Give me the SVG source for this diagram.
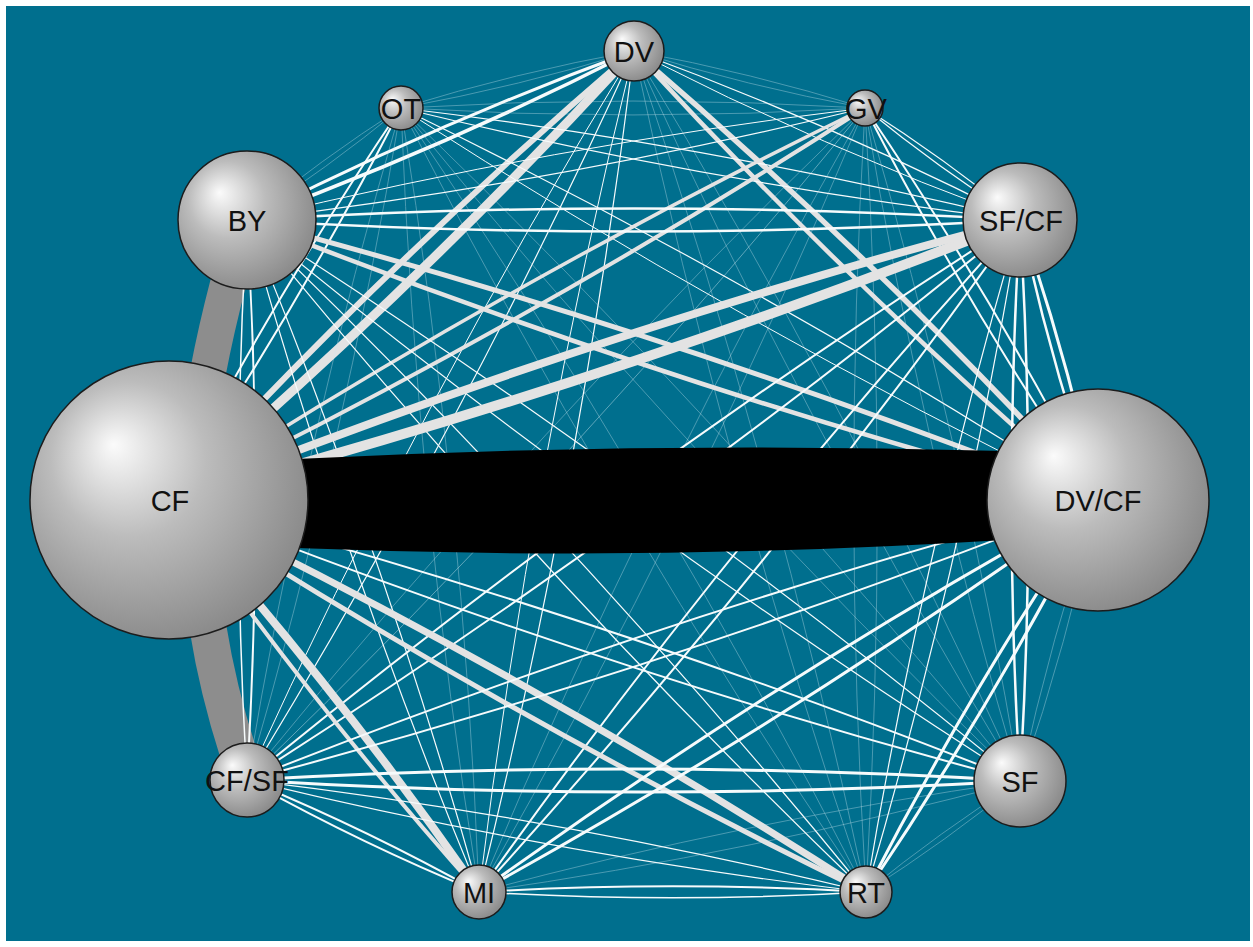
<svg xmlns="http://www.w3.org/2000/svg" width="1253" height="947" viewBox="0 0 1253 947">
<defs>
<radialGradient id="ball" cx="0.42" cy="0.42" r="0.62" fx="0.3" fy="0.3">
<stop offset="0" stop-color="#fbfbfb"/>
<stop offset="0.45" stop-color="#bcbcbc"/>
<stop offset="1" stop-color="#888888"/>
</radialGradient>
<style>
.e{fill:none;vector-effect:non-scaling-stroke;stroke-linecap:butt}
.t{stroke:#e3e3e3}
.m{stroke:#f6fbfc}
.f{stroke:#cfe9f1;opacity:.45}
.n circle{fill:url(#ball);stroke:#1c1c1c;stroke-width:1.5}
.n text{font-family:"Liberation Sans",Arial,sans-serif;font-size:29px;fill:#111;text-anchor:middle}
</style>
</defs>
<rect width="1253" height="947" fill="#ffffff"/>
<rect x="6" y="6" width="1244" height="935" fill="#006f8e"/>
<g id="connectors">
<path d="M228 284 Q216 330 208 372" fill="none" stroke="#8d8d8d" stroke-width="36"/>
<path d="M208 628 Q218 690 238 752" fill="none" stroke="#8d8d8d" stroke-width="37"/>
<g transform="matrix(-233 57 -57 -233 634 51)"><path class="e f" d="M0 0Q.5 -.03 1 0" stroke-width=".8"/><path class="e f" d="M0 0Q.5 .03 1 0" stroke-width=".8"/></g>
<g transform="matrix(231 57 -57 231 634 51)"><path class="e f" d="M0 0Q.5 -.03 1 0" stroke-width=".8"/><path class="e f" d="M0 0Q.5 .03 1 0" stroke-width=".8"/></g>
<g transform="matrix(-387 169 -169 -387 634 51)"><path class="e m" d="M0 0Q.5 -.03 1 0" stroke-width="3.5"/><path class="e m" d="M0 0Q.5 .03 1 0" stroke-width="3"/></g>
<g transform="matrix(386 169 -169 386 634 51)"><path class="e m" d="M0 0Q.5 -.03 1 0" stroke-width="1.2"/><path class="e m" d="M0 0Q.5 .03 1 0" stroke-width="1"/></g>
<g transform="matrix(-465 449 -449 -465 634 51)"><path class="e t" d="M0 0Q.5 -.03 1 0" stroke-width="9"/><path class="e t" d="M0 0Q.5 .03 1 0" stroke-width="6"/></g>
<g transform="matrix(464 449 -449 464 634 51)"><path class="e t" d="M0 0Q.5 -.03 1 0" stroke-width="5.5"/><path class="e t" d="M0 0Q.5 .03 1 0" stroke-width="4.5"/></g>
<g transform="matrix(-387 729 -729 -387 634 51)"><path class="e m" d="M0 0Q.5 -.03 1 0" stroke-width="1.2"/><path class="e m" d="M0 0Q.5 .03 1 0" stroke-width="1"/></g>
<g transform="matrix(386 730 -730 386 634 51)"><path class="e f" d="M0 0Q.5 -.03 1 0" stroke-width=".8"/><path class="e f" d="M0 0Q.5 .03 1 0" stroke-width=".8"/></g>
<g transform="matrix(-155 841 -841 -155 634 51)"><path class="e m" d="M0 0Q.5 -.03 1 0" stroke-width="1.2"/><path class="e m" d="M0 0Q.5 .03 1 0" stroke-width="1"/></g>
<g transform="matrix(232 841 -841 232 634 51)"><path class="e f" d="M0 0Q.5 -.03 1 0" stroke-width=".8"/><path class="e f" d="M0 0Q.5 .03 1 0" stroke-width=".8"/></g>
<g transform="matrix(464 0 0 464 401 108)"><path class="e f" d="M0 0Q.5 -.03 1 0" stroke-width=".8"/><path class="e f" d="M0 0Q.5 .03 1 0" stroke-width=".8"/></g>
<g transform="matrix(-154 112 -112 -154 401 108)"><path class="e f" d="M0 0Q.5 -.03 1 0" stroke-width=".8"/><path class="e f" d="M0 0Q.5 .03 1 0" stroke-width=".8"/></g>
<g transform="matrix(619 112 -112 619 401 108)"><path class="e m" d="M0 0Q.5 -.03 1 0" stroke-width="1.2"/><path class="e m" d="M0 0Q.5 .03 1 0" stroke-width="1.2"/></g>
<g transform="matrix(-232 392 -392 -232 401 108)"><path class="e m" d="M0 0Q.5 -.03 1 0" stroke-width="2"/><path class="e m" d="M0 0Q.5 .03 1 0" stroke-width="2"/></g>
<g transform="matrix(697 392 -392 697 401 108)"><path class="e m" d="M0 0Q.5 -.03 1 0" stroke-width="1.2"/><path class="e m" d="M0 0Q.5 .03 1 0" stroke-width="1"/></g>
<g transform="matrix(-154 672 -672 -154 401 108)"><path class="e f" d="M0 0Q.5 -.03 1 0" stroke-width=".8"/><path class="e f" d="M0 0Q.5 .03 1 0" stroke-width=".8"/></g>
<g transform="matrix(619 673 -673 619 401 108)"><path class="e f" d="M0 0Q.5 -.03 1 0" stroke-width=".8"/><path class="e f" d="M0 0Q.5 .03 1 0" stroke-width=".8"/></g>
<g transform="matrix(78 784 -784 78 401 108)"><path class="e f" d="M0 0Q.5 -.03 1 0" stroke-width=".8"/><path class="e f" d="M0 0Q.5 .03 1 0" stroke-width=".8"/></g>
<g transform="matrix(465 784 -784 465 401 108)"><path class="e f" d="M0 0Q.5 -.03 1 0" stroke-width=".8"/><path class="e f" d="M0 0Q.5 .03 1 0" stroke-width=".8"/></g>
<g transform="matrix(-618 112 -112 -618 865 108)"><path class="e m" d="M0 0Q.5 -.03 1 0" stroke-width="1.2"/><path class="e m" d="M0 0Q.5 .03 1 0" stroke-width="1"/></g>
<g transform="matrix(155 112 -112 155 865 108)"><path class="e m" d="M0 0Q.5 -.03 1 0" stroke-width="1.2"/><path class="e m" d="M0 0Q.5 .03 1 0" stroke-width="1.2"/></g>
<g transform="matrix(-696 392 -392 -696 865 108)"><path class="e t" d="M0 0Q.5 -.03 1 0" stroke-width="4"/><path class="e t" d="M0 0Q.5 .03 1 0" stroke-width="3.5"/></g>
<g transform="matrix(233 392 -392 233 865 108)"><path class="e m" d="M0 0Q.5 -.03 1 0" stroke-width="2"/><path class="e m" d="M0 0Q.5 .03 1 0" stroke-width="2"/></g>
<g transform="matrix(-618 672 -672 -618 865 108)"><path class="e f" d="M0 0Q.5 -.03 1 0" stroke-width="1"/><path class="e f" d="M0 0Q.5 .03 1 0" stroke-width=".8"/></g>
<g transform="matrix(155 673 -673 155 865 108)"><path class="e f" d="M0 0Q.5 -.03 1 0" stroke-width=".8"/><path class="e f" d="M0 0Q.5 .03 1 0" stroke-width=".8"/></g>
<g transform="matrix(-386 784 -784 -386 865 108)"><path class="e f" d="M0 0Q.5 -.03 1 0" stroke-width=".8"/><path class="e f" d="M0 0Q.5 .03 1 0" stroke-width=".8"/></g>
<g transform="matrix(1 784 -784 1 865 108)"><path class="e f" d="M0 0Q.5 -.03 1 0" stroke-width=".8"/><path class="e f" d="M0 0Q.5 .03 1 0" stroke-width=".8"/></g>
<g transform="matrix(773 0 0 773 247 220)"><path class="e m" d="M0 0Q.5 -.03 1 0" stroke-width="2.5"/><path class="e m" d="M0 0Q.5 .03 1 0" stroke-width="2.5"/></g>
<g transform="matrix(851 280 -280 851 247 220)"><path class="e t" d="M0 0Q.5 -.03 1 0" stroke-width="5"/><path class="e t" d="M0 0Q.5 .03 1 0" stroke-width="4.5"/></g>
<g transform="matrix(0 560 -560 0 247 220)"><path class="e m" d="M0 0Q.5 -.03 1 0" stroke-width="2"/><path class="e m" d="M0 0Q.5 .03 1 0" stroke-width="1.5"/></g>
<g transform="matrix(773 561 -561 773 247 220)"><path class="e m" d="M0 0Q.5 -.03 1 0" stroke-width="1.2"/><path class="e m" d="M0 0Q.5 .03 1 0" stroke-width="1.2"/></g>
<g transform="matrix(232 672 -672 232 247 220)"><path class="e m" d="M0 0Q.5 -.03 1 0" stroke-width="1.2"/><path class="e m" d="M0 0Q.5 .03 1 0" stroke-width="1.2"/></g>
<g transform="matrix(619 672 -672 619 247 220)"><path class="e m" d="M0 0Q.5 -.03 1 0" stroke-width="1.2"/><path class="e m" d="M0 0Q.5 .03 1 0" stroke-width="1.2"/></g>
<g transform="matrix(-851 280 -280 -851 1020 220)"><path class="e t" d="M0 0Q.5 -.03 1 0" stroke-width="10"/><path class="e t" d="M0 0Q.5 .03 1 0" stroke-width="8"/></g>
<g transform="matrix(78 280 -280 78 1020 220)"><path class="e m" d="M0 0Q.5 -.03 1 0" stroke-width="3"/><path class="e m" d="M0 0Q.5 .03 1 0" stroke-width="2.5"/></g>
<g transform="matrix(-773 560 -560 -773 1020 220)"><path class="e m" d="M0 0Q.5 -.03 1 0" stroke-width="2"/><path class="e m" d="M0 0Q.5 .03 1 0" stroke-width="2"/></g>
<g transform="matrix(0 561 -561 0 1020 220)"><path class="e m" d="M0 0Q.5 -.03 1 0" stroke-width="2.5"/><path class="e m" d="M0 0Q.5 .03 1 0" stroke-width="2.5"/></g>
<g transform="matrix(-541 672 -672 -541 1020 220)"><path class="e m" d="M0 0Q.5 -.03 1 0" stroke-width="2"/><path class="e m" d="M0 0Q.5 .03 1 0" stroke-width="2"/></g>
<g transform="matrix(-154 672 -672 -154 1020 220)"><path class="e m" d="M0 0Q.5 -.03 1 0" stroke-width="1.2"/><path class="e m" d="M0 0Q.5 .03 1 0" stroke-width="1.2"/></g>
<g transform="matrix(851 281 -281 851 169 500)"><path class="e m" d="M0 0Q.5 -.03 1 0" stroke-width="2"/><path class="e m" d="M0 0Q.5 .03 1 0" stroke-width="2"/></g>
<g transform="matrix(310 392 -392 310 169 500)"><path class="e t" d="M0 0Q.5 -.03 1 0" stroke-width="8"/><path class="e t" d="M0 0Q.5 .03 1 0" stroke-width="4"/></g>
<g transform="matrix(697 392 -392 697 169 500)"><path class="e t" d="M0 0Q.5 -.03 1 0" stroke-width="7"/><path class="e t" d="M0 0Q.5 .03 1 0" stroke-width="5"/></g>
<g transform="matrix(-851 280 -280 -851 1098 500)"><path class="e m" d="M0 0Q.5 -.03 1 0" stroke-width="2"/><path class="e m" d="M0 0Q.5 .03 1 0" stroke-width="2"/></g>
<g transform="matrix(-78 281 -281 -78 1098 500)"><path class="e f" d="M0 0Q.5 -.03 1 0" stroke-width=".8"/><path class="e f" d="M0 0Q.5 .03 1 0" stroke-width=".8"/></g>
<g transform="matrix(-619 392 -392 -619 1098 500)"><path class="e m" d="M0 0Q.5 -.03 1 0" stroke-width="3"/><path class="e m" d="M0 0Q.5 .03 1 0" stroke-width="3"/></g>
<g transform="matrix(-232 392 -392 -232 1098 500)"><path class="e m" d="M0 0Q.5 -.03 1 0" stroke-width="3"/><path class="e m" d="M0 0Q.5 .03 1 0" stroke-width="3"/></g>
<g transform="matrix(773 1 -1 773 247 780)"><path class="e m" d="M0 0Q.5 -.03 1 0" stroke-width="3"/><path class="e m" d="M0 0Q.5 .03 1 0" stroke-width="3"/></g>
<g transform="matrix(232 112 -112 232 247 780)"><path class="e m" d="M0 0Q.5 -.03 1 0" stroke-width="2"/><path class="e m" d="M0 0Q.5 .03 1 0" stroke-width="2"/></g>
<g transform="matrix(619 112 -112 619 247 780)"><path class="e m" d="M0 0Q.5 -.03 1 0" stroke-width="1.2"/><path class="e m" d="M0 0Q.5 .03 1 0" stroke-width="1.2"/></g>
<g transform="matrix(-541 111 -111 -541 1020 781)"><path class="e f" d="M0 0Q.5 -.03 1 0" stroke-width=".8"/><path class="e f" d="M0 0Q.5 .03 1 0" stroke-width=".8"/></g>
<g transform="matrix(-154 111 -111 -154 1020 781)"><path class="e f" d="M0 0Q.5 -.03 1 0" stroke-width=".8"/><path class="e f" d="M0 0Q.5 .03 1 0" stroke-width=".8"/></g>
<g transform="matrix(387 0 0 387 479 892)"><path class="e m" d="M0 0Q.5 -.03 1 0" stroke-width="2"/><path class="e m" d="M0 0Q.5 .03 1 0" stroke-width="1.5"/></g>
<path d="M296 459 Q650 441 1004 451 L1004 540 Q650 562 296 548 Z" fill="#000"/>
</g>
<g id="node-DV" class="n"><circle cx="634" cy="51" r="30"/><text x="634" y="61.5">DV</text></g>
<g id="node-OT" class="n"><circle cx="401" cy="108" r="22"/><text x="401" y="118.5">OT</text></g>
<g id="node-GV" class="n"><circle cx="865" cy="108" r="18"/><text x="866" y="118.5">GV</text></g>
<g id="node-BY" class="n"><circle cx="247" cy="220" r="69"/><text x="247" y="230.5">BY</text></g>
<g id="node-SFCF" class="n"><circle cx="1020" cy="220" r="57"/><text x="1021" y="230.5">SF/CF</text></g>
<g id="node-CF" class="n"><circle cx="169" cy="500" r="139"/><text x="170" y="510.5">CF</text></g>
<g id="node-DVCF" class="n"><circle cx="1098" cy="500" r="111"/><text x="1098" y="510.5">DV/CF</text></g>
<g id="node-CFSF" class="n"><circle cx="247" cy="780" r="37"/><text x="247" y="790.5">CF/SF</text></g>
<g id="node-SF" class="n"><circle cx="1020" cy="781" r="46"/><text x="1020" y="791.5">SF</text></g>
<g id="node-MI" class="n"><circle cx="479" cy="892" r="27"/><text x="479" y="902.5">MI</text></g>
<g id="node-RT" class="n"><circle cx="866" cy="892" r="26"/><text x="866" y="902.5">RT</text></g>
</svg>
